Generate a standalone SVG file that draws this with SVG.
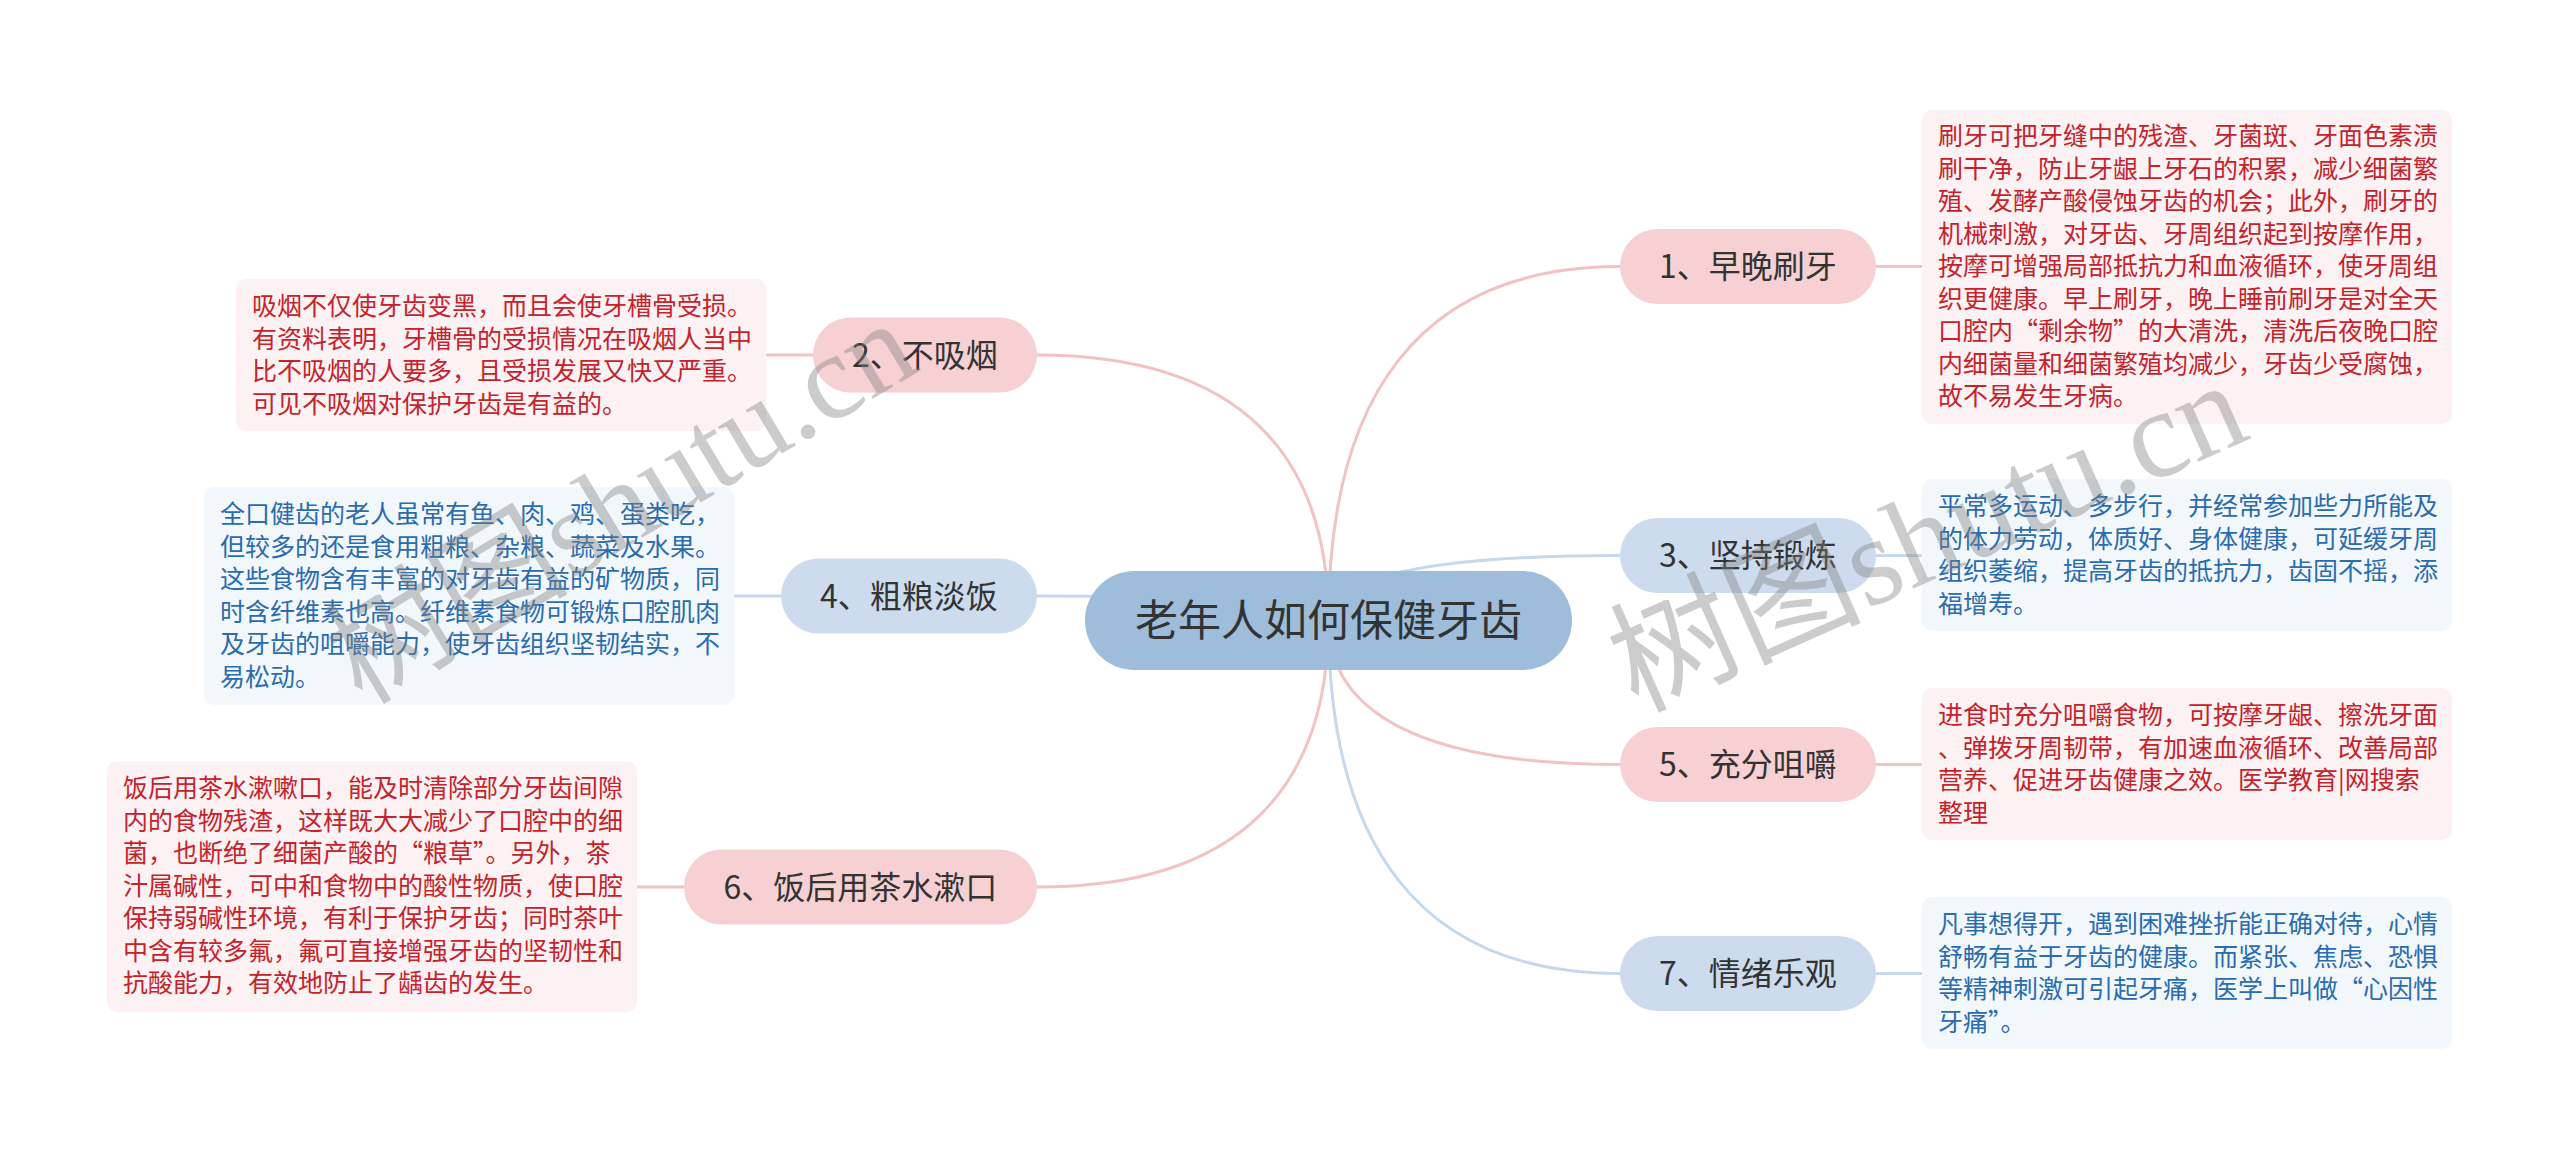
<svg xmlns="http://www.w3.org/2000/svg" width="2560" height="1159" viewBox="0 0 2560 1159">
<style>
text{font-family:"Noto Sans CJK SC","Noto Sans",sans-serif;}
.lp{fill:none;stroke:#f2c3c5;stroke-width:3;}
.lb{fill:none;stroke:#c6d9ec;stroke-width:3;}
.np{fill:#f6d0d2;}
.nb{fill:#ccdcee;}
.nc{fill:#9ebdda;}
.nt{font-size:32px;fill:#333333;text-anchor:middle;}
.ct{font-size:43px;fill:#333333;text-anchor:middle;}
.bp{fill:#fdf2f3;}
.bb{fill:#f2f7fc;}
.tr{font-size:25px;fill:#c4232c;}
.tb{font-size:25px;fill:#2a6cae;}
.wm{font-family:"Liberation Serif","Noto Sans CJK SC",serif;font-size:122px;fill:#808080;fill-opacity:0.4;}
</style>
<rect width="2560" height="1159" fill="#ffffff"/>
<g id="connectors">
<path class="lp" d="M1328.5 620.5 C1328.5 401 1416 266.5 1620 266.5"/>
<path class="lb" d="M1328.5 620.5 C1328.5 580 1416 555.5 1620 555.5"/>
<path class="lp" d="M1328.5 620.5 C1328.5 710 1416 764.5 1620 764.5"/>
<path class="lb" d="M1328.5 620.5 C1328.5 840 1416 973.5 1620 973.5"/>
<path class="lp" d="M1328.5 620.5 C1328.5 456 1241 355 1037 355"/>
<path class="lb" d="M1328.5 620.5 C1328.5 605 1241 596 1037 596"/>
<path class="lp" d="M1328.5 620.5 C1328.5 786 1241 887 1037 887"/>
<path class="lp" d="M1876 266.5 H1922"/>
<path class="lb" d="M1876 555.5 H1922"/>
<path class="lp" d="M1876 764.5 H1922"/>
<path class="lb" d="M1876 973.5 H1922"/>
<path class="lp" d="M813 355 H766"/>
<path class="lb" d="M781 596 H734"/>
<path class="lp" d="M684 887 H637"/>
</g>
<g id="center">
<rect class="nc" x="1085" y="571" width="487" height="99" rx="49.5"/>
<text class="ct" x="1328.5" y="636">老年人如何保健牙齿</text>
</g>
<g id="node1">
<rect class="np" x="1620" y="229" width="256" height="75" rx="37.5"/>
<text class="nt" x="1748" y="278">1、早晚刷牙</text>
</g>
<g id="node3">
<rect class="nb" x="1620" y="518" width="256" height="75" rx="37.5"/>
<text class="nt" x="1748" y="567">3、坚持锻炼</text>
</g>
<g id="node5">
<rect class="np" x="1620" y="727" width="256" height="75" rx="37.5"/>
<text class="nt" x="1748" y="776">5、充分咀嚼</text>
</g>
<g id="node7">
<rect class="nb" x="1620" y="936" width="256" height="75" rx="37.5"/>
<text class="nt" x="1748" y="985">7、情绪乐观</text>
</g>
<g id="node2">
<rect class="np" x="813" y="317.5" width="224" height="75" rx="37.5"/>
<text class="nt" x="925" y="366.5">2、不吸烟</text>
</g>
<g id="node4">
<rect class="nb" x="781" y="558.5" width="256" height="75" rx="37.5"/>
<text class="nt" x="909" y="607.5">4、粗粮淡饭</text>
</g>
<g id="node6">
<rect class="np" x="684" y="849.5" width="353" height="75" rx="37.5"/>
<text class="nt" x="860.5" y="898.5">6、饭后用茶水漱口</text>
</g>
<g id="detail1">
<rect class="bp" x="1922" y="110" width="530" height="314" rx="10"/>
<text class="tr" x="1938"><tspan x="1938" y="145">刷牙可把牙缝中的残渣、牙菌斑、牙面色素渍</tspan><tspan x="1938" y="177.5">刷干净，防止牙龈上牙石的积累，减少细菌繁</tspan><tspan x="1938" y="210">殖、发酵产酸侵蚀牙齿的机会；此外，刷牙的</tspan><tspan x="1938" y="242.5">机械刺激，对牙齿、牙周组织起到按摩作用，</tspan><tspan x="1938" y="275">按摩可增强局部抵抗力和血液循环，使牙周组</tspan><tspan x="1938" y="307.5">织更健康。早上刷牙，晚上睡前刷牙是对全天</tspan><tspan x="1938" y="340">口腔内“剩余物”的大清洗，清洗后夜晚口腔</tspan><tspan x="1938" y="372.5">内细菌量和细菌繁殖均减少，牙齿少受腐蚀，</tspan><tspan x="1938" y="405">故不易发生牙病。</tspan></text>
</g>
<g id="detail3">
<rect class="bb" x="1922" y="479" width="530" height="152" rx="10"/>
<text class="tb"><tspan x="1938" y="515">平常多运动、多步行，并经常参加些力所能及</tspan><tspan x="1938" y="547.5">的体力劳动，体质好、身体健康，可延缓牙周</tspan><tspan x="1938" y="580">组织萎缩，提高牙齿的抵抗力，齿固不摇，添</tspan><tspan x="1938" y="612.5">福增寿。</tspan></text>
</g>
<g id="detail5">
<rect class="bp" x="1922" y="688" width="530" height="152" rx="10"/>
<text class="tr"><tspan x="1938" y="724">进食时充分咀嚼食物，可按摩牙龈、擦洗牙面</tspan><tspan x="1938" y="756.5">、弹拨牙周韧带，有加速血液循环、改善局部</tspan><tspan x="1938" y="789">营养、促进牙齿健康之效。医学教育|网搜索</tspan><tspan x="1938" y="821.5">整理</tspan></text>
</g>
<g id="detail7">
<rect class="bb" x="1922" y="897" width="530" height="152" rx="10"/>
<text class="tb"><tspan x="1938" y="933">凡事想得开，遇到困难挫折能正确对待，心情</tspan><tspan x="1938" y="965.5">舒畅有益于牙齿的健康。而紧张、焦虑、恐惧</tspan><tspan x="1938" y="998">等精神刺激可引起牙痛，医学上叫做“心因性</tspan><tspan x="1938" y="1030.5">牙痛”。</tspan></text>
</g>
<g id="detail2">
<rect class="bp" x="236" y="279" width="530" height="152" rx="10"/>
<text class="tr"><tspan x="252" y="315">吸烟不仅使牙齿变黑，而且会使牙槽骨受损。</tspan><tspan x="252" y="347.5">有资料表明，牙槽骨的受损情况在吸烟人当中</tspan><tspan x="252" y="380">比不吸烟的人要多，且受损发展又快又严重。</tspan><tspan x="252" y="412.5">可见不吸烟对保护牙齿是有益的。</tspan></text>
</g>
<g id="detail4">
<rect class="bb" x="204" y="487" width="530" height="218" rx="10"/>
<text class="tb"><tspan x="220" y="523">全口健齿的老人虽常有鱼、肉、鸡、蛋类吃，</tspan><tspan x="220" y="555.5">但较多的还是食用粗粮、杂粮、蔬菜及水果。</tspan><tspan x="220" y="588">这些食物含有丰富的对牙齿有益的矿物质，同</tspan><tspan x="220" y="620.5">时含纤维素也高。纤维素食物可锻炼口腔肌肉</tspan><tspan x="220" y="653">及牙齿的咀嚼能力，使牙齿组织坚韧结实，不</tspan><tspan x="220" y="685.5">易松动。</tspan></text>
</g>
<g id="detail6">
<rect class="bp" x="107" y="761" width="530" height="251" rx="10"/>
<text class="tr"><tspan x="123" y="797">饭后用茶水漱嗽口，能及时清除部分牙齿间隙</tspan><tspan x="123" y="829.5">内的食物残渣，这样既大大减少了口腔中的细</tspan><tspan x="123" y="862">菌，也断绝了细菌产酸的“粮草”。另外，茶</tspan><tspan x="123" y="894.5">汁属碱性，可中和食物中的酸性物质，使口腔</tspan><tspan x="123" y="927">保持弱碱性环境，有利于保护牙齿；同时茶叶</tspan><tspan x="123" y="959.5">中含有较多氟，氟可直接增强牙齿的坚韧性和</tspan><tspan x="123" y="992">抗酸能力，有效地防止了龋齿的发生。</tspan></text>
</g>
<g id="watermarks">
<text class="wm" transform="translate(362 706) rotate(-31)">树图shutu.cn</text>
<text class="wm" transform="translate(1636 712) rotate(-24)" style="font-size:126px">树图shutu.cn</text>
</g>
</svg>
